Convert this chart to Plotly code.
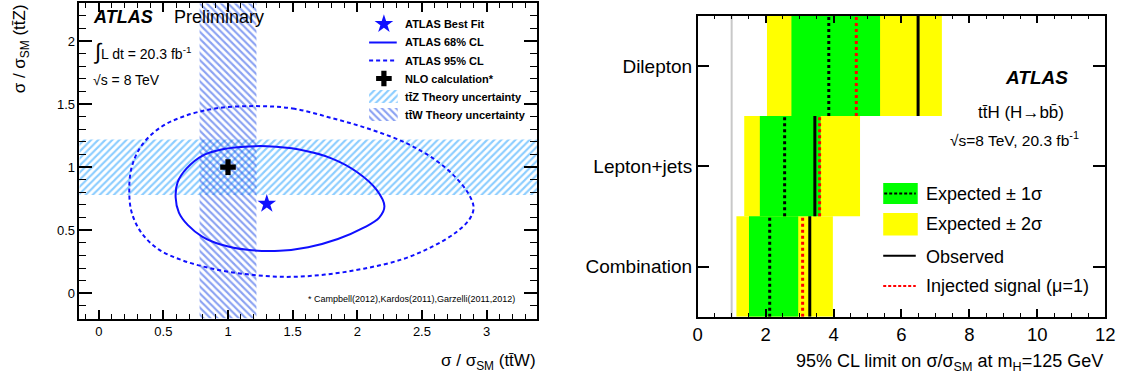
import plotly.graph_objects as go

# ---------------- data: left panel (ttW / ttZ) ----------------
best_fit_ttW = [1.30]
best_fit_ttZ = [0.71]
nlo_ttW = [1.0]
nlo_ttZ = [1.0]
ttW_theory_unc = 0.22
ttZ_theory_unc = 0.22

cl68_ttW = [1.10, 1.30, 1.55, 1.80, 2.00, 2.15, 2.21, 2.17, 2.05, 1.85, 1.62, 1.40, 1.15, 0.95, 0.80, 0.69,
            0.62, 0.595, 0.61, 0.68, 0.80, 0.95, 1.10]
cl68_ttZ = [1.160, 1.166, 1.140, 1.070, 0.960, 0.820, 0.690, 0.600, 0.520, 0.430, 0.365, 0.337, 0.345, 0.385,
            0.450, 0.540, 0.640, 0.760, 0.880, 0.990, 1.090, 1.140, 1.160]

cl95_ttW = [1.206, 1.50, 1.80, 2.10, 2.38, 2.60, 2.76, 2.86, 2.90, 2.87, 2.76, 2.58, 2.35, 2.05, 1.75, 1.45,
            1.15, 0.88, 0.65, 0.46, 0.33, 0.255, 0.236, 0.255, 0.33, 0.47, 0.65, 0.90, 1.206]
cl95_ttZ = [1.484, 1.465, 1.390, 1.300, 1.190, 1.060, 0.920, 0.790, 0.680, 0.590, 0.480, 0.370, 0.270, 0.195,
            0.148, 0.130, 0.150, 0.195, 0.260, 0.350, 0.480, 0.640, 0.820, 1.000, 1.170, 1.310, 1.400, 1.465, 1.484]

# ---------------- data: right panel (ttH limits) ----------------
channels = ["Combination", "Lepton+jets", "Dilepton"]
exp_minus2 = [1.14, 1.37, 2.04]
exp_minus1 = [1.51, 1.83, 2.76]
expected = [2.12, 2.56, 3.86]
exp_plus1 = [2.96, 3.62, 5.37]
exp_plus2 = [3.98, 4.78, 7.19]
observed = [3.30, 3.45, 6.49]
injected = [3.09, 3.59, 4.67]
sm_value = 1.0

FONT = "Liberation Sans, Arial, Helvetica, sans-serif"
W, H = 1132, 380
BLUE = "#1010ff"
ZCOL = "#1a9cff"
WCOL = "#1846e6"
PSIZE = 5
PSOL = 0.42

XL = [-0.15, 3.39]
YL = [-0.2, 2.3]


def px(x):
    return x / W


def py(y):
    return 1 - y / H


fig = go.Figure()

# --- theory bands (hatched) ---
zlo, zhi = nlo_ttZ[0] - ttZ_theory_unc, nlo_ttZ[0] + ttZ_theory_unc
wlo, whi = nlo_ttW[0] - ttW_theory_unc, nlo_ttW[0] + ttW_theory_unc
fig.add_trace(go.Scatter(
    x=[XL[0], XL[1], XL[1], XL[0], XL[0]], y=[zlo, zlo, zhi, zhi, zlo],
    fill="toself", mode="lines", line=dict(width=0), fillcolor="rgba(0,0,0,0)",
    fillpattern=dict(shape="/", fgcolor=ZCOL, bgcolor="rgba(0,0,0,0)", size=PSIZE, solidity=PSOL),
    xaxis="x", yaxis="y", showlegend=False, hoverinfo="skip"))
fig.add_trace(go.Scatter(
    x=[wlo, whi, whi, wlo, wlo], y=[YL[0], YL[0], YL[1], YL[1], YL[0]],
    fill="toself", mode="lines", line=dict(width=0), fillcolor="rgba(0,0,0,0)",
    fillpattern=dict(shape="\\", fgcolor=WCOL, bgcolor="rgba(0,0,0,0)", size=PSIZE, solidity=PSOL),
    xaxis="x", yaxis="y", showlegend=False, hoverinfo="skip"))

# --- contours ---
fig.add_trace(go.Scatter(x=cl95_ttW, y=cl95_ttZ, mode="lines",
                         line=dict(color=BLUE, width=2, dash="4px,3px", shape="spline", smoothing=1.0),
                         xaxis="x", yaxis="y", showlegend=False))
fig.add_trace(go.Scatter(x=cl68_ttW, y=cl68_ttZ, mode="lines",
                         line=dict(color=BLUE, width=2, shape="spline", smoothing=1.0),
                         xaxis="x", yaxis="y", showlegend=False))
# --- points ---
fig.add_trace(go.Scatter(x=best_fit_ttW, y=best_fit_ttZ, mode="markers",
                         marker=dict(symbol="star", size=14, color=BLUE, line=dict(width=0)),
                         xaxis="x", yaxis="y", showlegend=False))
fig.add_trace(go.Scatter(x=nlo_ttW, y=nlo_ttZ, mode="markers",
                         marker=dict(symbol="cross", size=13, color="black", line=dict(width=0)),
                         xaxis="x", yaxis="y", showlegend=False))

# ---------------- right panel ----------------
ypos = list(range(len(channels)))
fig.add_trace(go.Bar(y=ypos, x=[b - a for a, b in zip(exp_minus2, exp_plus2)], base=exp_minus2,
                     orientation="h", width=1, marker=dict(color="#ffff00", line=dict(width=0)),
                     xaxis="x2", yaxis="y2", showlegend=False))
fig.add_trace(go.Bar(y=ypos, x=[b - a for a, b in zip(exp_minus1, exp_plus1)], base=exp_minus1,
                     orientation="h", width=1, marker=dict(color="#00ff00", line=dict(width=0)),
                     xaxis="x2", yaxis="y2", showlegend=False))


def segs(vals):
    xs, ys = [], []
    for i, v in enumerate(vals):
        xs += [v, v, None]
        ys += [i - 0.5, i + 0.5, None]
    return xs, ys


xs, ys = segs(expected)
fig.add_trace(go.Scatter(x=xs, y=ys, mode="lines", line=dict(color="black", width=3, dash="3px,3px"),
                         xaxis="x2", yaxis="y2", showlegend=False))
xs, ys = segs(observed)
fig.add_trace(go.Scatter(x=xs, y=ys, mode="lines", line=dict(color="black", width=3),
                         xaxis="x2", yaxis="y2", showlegend=False))
xs, ys = segs(injected)
fig.add_trace(go.Scatter(x=xs, y=ys, mode="lines", line=dict(color="#ff0000", width=3, dash="3px,3px"),
                         xaxis="x2", yaxis="y2", showlegend=False))

# ---------------- legend swatches (pixel overlay axis) ----------------
LX0, LX1 = 369, 397
fig.add_trace(go.Scatter(x=[384], y=[24], mode="markers",
                         marker=dict(symbol="star", size=14, color=BLUE, line=dict(width=0)),
                         xaxis="x3", yaxis="y3", showlegend=False, hoverinfo="skip"))
fig.add_trace(go.Scatter(x=[LX0, LX1], y=[42.5, 42.5], mode="lines", line=dict(color=BLUE, width=2),
                         xaxis="x3", yaxis="y3", showlegend=False, hoverinfo="skip"))
fig.add_trace(go.Scatter(x=[LX0, LX1], y=[60.5, 60.5], mode="lines",
                         line=dict(color=BLUE, width=2, dash="4px,3px"),
                         xaxis="x3", yaxis="y3", showlegend=False, hoverinfo="skip"))
fig.add_trace(go.Scatter(x=[384], y=[78.5], mode="markers",
                         marker=dict(symbol="cross", size=13, color="black", line=dict(width=0)),
                         xaxis="x3", yaxis="y3", showlegend=False, hoverinfo="skip"))
for (y0, y1, shp, col) in [(90, 103, "/", ZCOL), (108, 121, "\\", WCOL)]:
    fig.add_trace(go.Scatter(x=[LX0, LX1 + 1, LX1 + 1, LX0, LX0], y=[y0, y0, y1, y1, y0],
                             fill="toself", mode="lines", line=dict(width=0), fillcolor="rgba(0,0,0,0)",
                             fillpattern=dict(shape=shp, fgcolor=col, bgcolor="rgba(0,0,0,0)", size=PSIZE,
                                              solidity=PSOL),
                             xaxis="x3", yaxis="y3", showlegend=False, hoverinfo="skip"))

# right legend
RX0, RX1 = 890, 925
fig.add_trace(go.Scatter(x=[RX0, RX1, RX1, RX0, RX0], y=[183, 183, 204, 204, 183], fill="toself",
                         fillcolor="#00ff00", mode="lines", line=dict(width=0),
                         xaxis="x3", yaxis="y3", showlegend=False, hoverinfo="skip"))
fig.add_trace(go.Scatter(x=[RX0, RX1, RX1, RX0, RX0], y=[213, 213, 235.5, 235.5, 213], fill="toself",
                         fillcolor="#ffff00", mode="lines", line=dict(width=0),
                         xaxis="x3", yaxis="y3", showlegend=False, hoverinfo="skip"))
fig.add_trace(go.Scatter(x=[RX0 + 1, RX1 - 2], y=[193.5, 193.5], mode="lines",
                         line=dict(color="black", width=2, dash="3px,2px"),
                         xaxis="x3", yaxis="y3", showlegend=False, hoverinfo="skip"))
fig.add_trace(go.Scatter(x=[RX0, RX1 - 2], y=[255.7, 255.7], mode="lines",
                         line=dict(color="black", width=2),
                         xaxis="x3", yaxis="y3", showlegend=False, hoverinfo="skip"))
fig.add_trace(go.Scatter(x=[RX0, RX1 - 2], y=[286, 286], mode="lines",
                         line=dict(color="#ff0000", width=2, dash="3px,2px"),
                         xaxis="x3", yaxis="y3", showlegend=False, hoverinfo="skip"))

# ---------------- axes ----------------
common = dict(showgrid=False, zeroline=False, showline=True, linecolor="black", linewidth=1.5,
              mirror="ticks", ticks="inside", tickcolor="black", tickwidth=1.5,
              tickfont=dict(family=FONT, size=13, color="black"))

fig.update_layout(
    width=W, height=H, margin=dict(l=0, r=0, t=0, b=0),
    paper_bgcolor="white", plot_bgcolor="rgba(0,0,0,0)", showlegend=False,
    font=dict(family=FONT, color="black"),
    barmode="overlay",
    xaxis=dict(domain=[75.35 / W, 539.1 / W], range=XL, anchor="y", dtick=0.5, tick0=0, ticklen=9,
               minor=dict(dtick=0.1, tick0=0, ticks="inside", ticklen=5, tickcolor="black", tickwidth=1.2),
               **common),
    yaxis=dict(domain=[py(318.5), py(3.2)], range=YL, anchor="x", dtick=0.5, tick0=0, ticklen=13,
               minor=dict(dtick=0.1, tick0=0, ticks="inside", ticklen=7, tickcolor="black", tickwidth=1.2),
               **common),
    xaxis2=dict(domain=[702 / W, 1115 / W], range=[0, 12], anchor="y2", dtick=2, tick0=0, ticklen=8,
                minor=dict(dtick=0.5, tick0=0, ticks="inside", ticklen=4, tickcolor="black", tickwidth=1.2),
                **{**common, "tickfont": dict(family=FONT, size=18.5, color="black")}),
    yaxis2=dict(domain=[py(316.7), py(15.7)], range=[-0.5, 2.5], anchor="x2",
                tickvals=ypos, ticktext=channels, ticklen=12,
                **{**common, "tickfont": dict(family=FONT, size=19, color="black")}),
    xaxis3=dict(domain=[0, 1], range=[0, W], anchor="y3", visible=False, fixedrange=True),
    yaxis3=dict(domain=[0, 1], range=[H, 0], anchor="x3", visible=False, fixedrange=True),
)

fig.add_shape(type="line", x0=sm_value, x1=sm_value, y0=0, y1=1, xref="x2", yref="y2 domain",
              line=dict(color="#c8c8c8", width=2), layer="below")


def ann(text, x, y, size, xanchor="left", yanchor="middle", angle=0, bold=False, italic=False):
    if italic:
        text = "<i>" + text + "</i>"
    if bold:
        text = "<b>" + text + "</b>"
    fig.add_annotation(text=text, x=px(x), y=py(y), xref="paper", yref="paper", showarrow=False,
                       xanchor=xanchor, yanchor=yanchor, textangle=angle,
                       font=dict(family=FONT, size=size, color="black"))


# left panel texts
ann("ATLAS", 87, 17, 18, bold=True, italic=True)
ann("Preliminary", 169, 17, 18)
ann("<span style='font-size:22px'>∫</span>L dt = 20.3 fb<sup>-1</sup>", 87, 52, 14)
ann("√s = 8 TeV", 87, 80, 14)
ann("* Campbell(2012),Kardos(2011),Garzelli(2011,2012)", 519, 299, 9, xanchor="right")
for yy, t in [(24, "ATLAS Best Fit"), (42.5, "ATLAS 68% CL"), (60.5, "ATLAS 95% CL"),
              (78.5, "NLO calculation*"), (97, "tt̄Z Theory uncertainty"), (115, "tt̄W Theory uncertainty")]:
    ann(t, 403, yy, 11, bold=True)
ann("σ / σ<sub>SM</sub> (tt̄W)", 540, 362, 17, xanchor="right")
ann("σ / σ<sub>SM</sub> (tt̄Z)", 16, 2, 17, xanchor="center", yanchor="top", angle=-90)

# right panel texts
ann("ATLAS", 1045, 78, 19, xanchor="center", bold=True, italic=True)
ann("tt̄H (H→bb̄)", 1030, 112, 17, xanchor="center")
ann("√s=8 TeV, 20.3 fb<sup>-1</sup>", 1023, 139, 15.5, xanchor="center")
for yy, t in [(193.5, "Expected ± 1σ"), (224, "Expected ± 2σ"), (256.5, "Observed"),
              (286, "Injected signal (μ=1)")]:
    ann(t, 931, yy, 18)
ann("95% CL limit on σ/σ<sub>SM</sub> at m<sub>H</sub>=125 GeV", 1115, 362, 18, xanchor="right")

fig.write_html("out.html")
